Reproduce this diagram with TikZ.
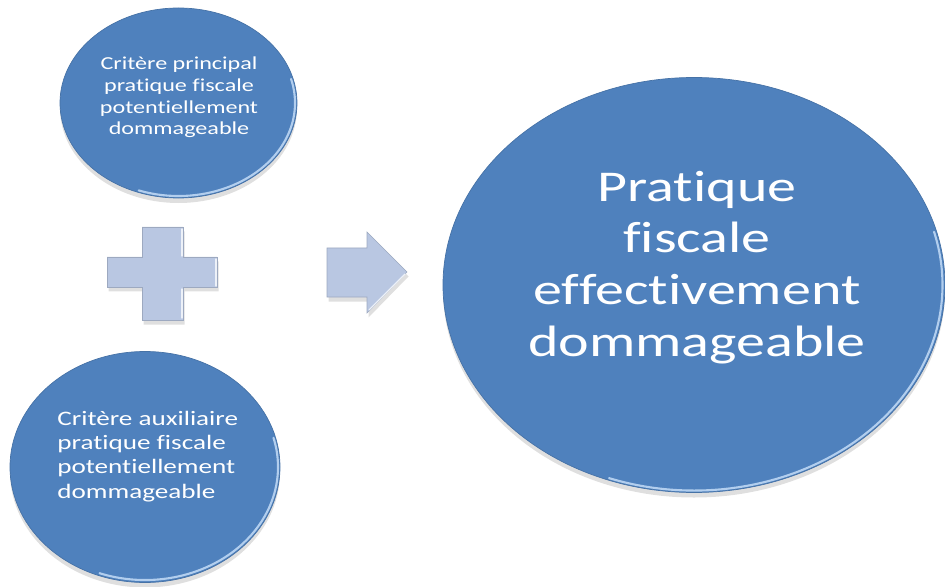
\documentclass[tikz,border=0pt]{standalone}
\usepackage{fontspec}
\setmainfont{Carlito}[FakeStretch=1.32, Ligatures=NoCommon]
\usepackage{tikz}
\usetikzlibrary{shapes,shadows,positioning}
\definecolor{discblue}{RGB}{79,129,189}
\definecolor{discrim}{RGB}{178,206,238}
\definecolor{signblue}{RGB}{185,199,226}

\begin{document}
\begin{tikzpicture}[x=0.2mm, y=0.2mm,
  disc/.style={ellipse, fill=discblue, draw=discblue!88!black, line width=.4pt, inner sep=0pt,
    drop shadow={shadow xshift=0mm, shadow yshift=-1mm, opacity=.25}},
  disctext/.style={text=white, align=center, inner sep=0pt},
  rim/.style={draw=discrim, line width=1.2pt, line cap=round},
  sign/.style={fill=signblue, draw=signblue!85!black, line width=.3pt,
    drop shadow={shadow xshift=.3mm, shadow yshift=-.9mm, opacity=.25}},
  bevel/.style={draw=white!75!signblue, line width=.8pt, line cap=round}]
  \useasboundingbox (0,0) rectangle (945,-587);

  \node[disc, minimum width=47.4mm, minimum height=38mm] (crit1) at (178.5,-103) {};
  \node[disc, minimum width=54mm, minimum height=46.2mm] (crit2) at (145,-467) {};
  \node[disc, minimum width=100.4mm, minimum height=83mm] (result) at (694,-285) {};

  \foreach \n/\rx/\ry in {crit1/116.5/93, crit2/133/113, result/248.5/205.5} {
    \draw[rim] ([shift={({\rx*cos(-110)},{\ry*sin(-110)})}]\n.center)
      arc[start angle=-110, end angle=15, x radius=\rx, y radius=\ry];
  }

  \node[disctext, font=\fontsize{10.4}{12.3}\selectfont] (crit1text) at (179,-97.5)
    {Critère principal\\pratique fiscale\\potentiellement\\dommageable};
  \node[disctext, align=left, anchor=west, font=\fontsize{11.7}{13.8}\selectfont] (crit2text) at (57,-456.5)
    {Critère auxiliaire\\pratique fiscale\\potentiellement\\dommageable};
  \node[disctext, font=\fontsize{25}{29.5}\selectfont] (resulttext) at (697,-267.5)
    {Pratique\\fiscale\\effectivement\\dommageable};

  \path[sign] (142,-227) -- (183,-227) -- (183,-257) -- (217,-257) -- (217,-287) -- (183,-287)
    -- (183,-320) -- (142,-320) -- (142,-287) -- (107,-287) -- (107,-257) -- (142,-257) -- cycle;
  \draw[bevel] (182,-229) -- (182,-256) (216,-259) -- (216,-286) (182,-289) -- (182,-318);

  \path[sign] (327,-248) -- (367,-248) -- (367,-232) -- (407,-272) -- (367,-313) -- (367,-297)
    -- (327,-297) -- cycle;
  \draw[bevel] (405,-274) -- (369,-310);
\end{tikzpicture}
\end{document}
